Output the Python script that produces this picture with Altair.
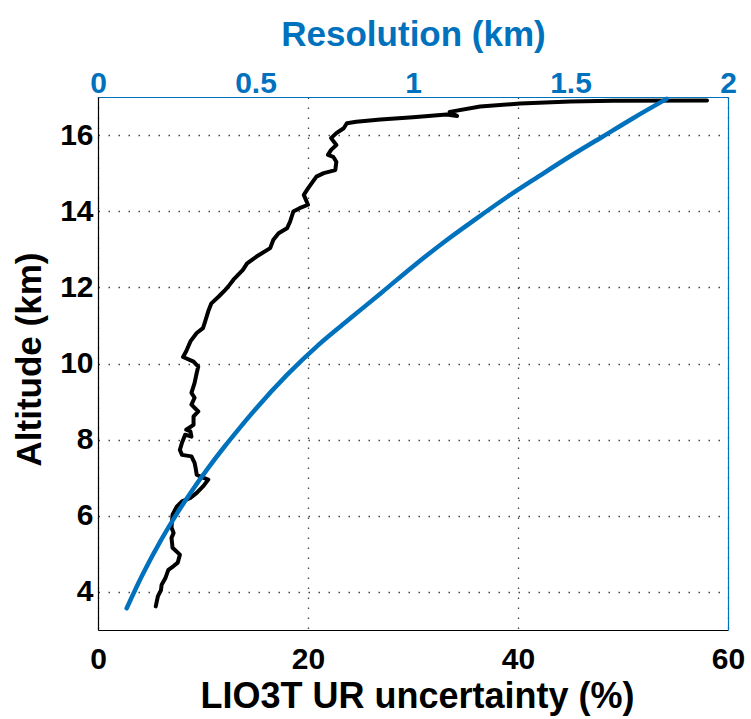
import altair as alt
import pandas as pd

# Black curve: LIO3T UR uncertainty (%) vs altitude (km)
unc_pct = [5.5, 5.6, 5.7, 6.0, 6.06, 6.4, 6.7, 7.2, 7.6, 7.8, 7.1, 7.0, 7.2, 7.0, 7.1, 7.5, 8.0, 8.8, 9.4,
           10.0, 10.5, 10.0, 9.4, 9.3, 9.2, 8.9, 8.0, 7.8, 8.0, 8.3, 8.9, 8.8, 8.4, 9.1, 9.1, 9.55, 8.9,
           9.2, 8.9, 9.2, 9.4, 9.55, 9.1, 8.1, 8.4, 8.8, 9.4, 10.0, 10.2, 10.5, 10.8, 11.5, 12.1, 12.4,
           12.9, 13.8, 14.2, 15.1, 16.4, 16.7, 17.2, 18.0, 18.3, 18.6, 19.2, 20.0, 19.6, 20.0, 20.8, 21.5,
           22.6, 22.7, 22.4, 21.9, 22.2, 22.7, 22.2, 22.7, 23.4, 23.7, 24.6, 26.9, 30.0, 33.2, 34.2, 33.5,
           36.4, 40.2, 45.0, 49.0, 58.0]
unc_alt = [3.62, 3.75, 3.88, 4.05, 4.19, 4.35, 4.58, 4.68, 4.77, 4.98, 5.16, 5.42, 5.55, 5.69, 6.03, 6.24,
           6.38, 6.47, 6.6, 6.77, 6.95, 7.0, 7.08, 7.25, 7.39, 7.56, 7.6, 7.73, 7.92, 8.13, 8.08, 8.22,
           8.26, 8.39, 8.61, 8.74, 8.92, 9.1, 9.23, 9.49, 9.75, 9.92, 10.05, 10.17, 10.32, 10.58, 10.8,
           10.93, 11.1, 11.37, 11.58, 11.76, 11.93, 12.02, 12.2, 12.46, 12.63, 12.81, 13.03, 13.25, 13.42,
           13.55, 13.73, 13.99, 14.08, 14.17, 14.43, 14.6, 14.91, 15.0, 15.08, 15.3, 15.43, 15.48, 15.61,
           15.74, 15.92, 16.05, 16.18, 16.31, 16.35, 16.41, 16.47, 16.54, 16.5, 16.61, 16.75, 16.83,
           16.88, 16.9, 16.91]

# Blue curve: resolution (km) vs altitude (km)
res_km = [0.091, 0.14, 0.2, 0.25, 0.3, 0.35, 0.4, 0.45, 0.5, 0.6, 0.7, 0.8, 0.9, 1.0, 1.1, 1.2, 1.3,
          1.4, 1.5, 1.6, 1.7, 1.805]
res_alt = [3.57, 4.43, 5.36, 6.05, 6.68, 7.26, 7.80, 8.31, 8.80, 9.70, 10.49, 11.18, 11.86, 12.55, 13.2,
           13.8, 14.38, 14.92, 15.45, 15.95, 16.45, 16.95]

x_ticks = [0, 20, 40, 60]
top_ticks = [0, 0.5, 1, 1.5, 2]
y_ticks = [4, 6, 8, 10, 12, 14, 16]

BLUE = "#0072BD"
FONT = "Liberation Sans"

df_u = pd.DataFrame({"unc": unc_pct, "alt": unc_alt, "i": range(len(unc_pct))})
df_r = pd.DataFrame({"res": res_km, "alt": res_alt, "i": range(len(res_km))})

yscale = alt.Scale(domain=[3, 17], nice=False, zero=False)

black = alt.Chart(df_u).mark_line(color="black", strokeWidth=4, strokeCap="round", strokeJoin="round").encode(
    x=alt.X("unc:Q", scale=alt.Scale(domain=[0, 60], nice=False),
            axis=alt.Axis(orient="bottom", values=x_ticks, title="LIO3T UR uncertainty (%)",
                          grid=True, gridColor="#444", gridDash=[1.5, 8.5], gridWidth=1.3,
                          domainColor="black", domainWidth=1.2, ticks=False, tickSize=0,
                          labelFont=FONT, labelFontSize=30, labelFontWeight="bold", labelColor="black",
                          labelBaseline="alphabetic", labelPadding=38, labelFlush=False,
                          titleFont=FONT, titleFontSize=36, titleFontWeight="bold", titleColor="black",
                          titleBaseline="alphabetic", titleY=77, titleX=319)),
    y=alt.Y("alt:Q", scale=yscale,
            axis=alt.Axis(orient="left", values=y_ticks, title="Altitude (km)",
                          grid=True, gridColor="#444", gridDash=[1.5, 8.5], gridWidth=1.3,
                          domainColor="black", domainWidth=1.2, ticks=False, tickSize=0,
                          labelFont=FONT, labelFontSize=30, labelFontWeight="bold", labelColor="black",
                          labelPadding=5, labelFlush=False,
                          titleFont=FONT, titleFontSize=35, titleFontWeight="bold", titleColor="black",
                          titleBaseline="alphabetic", titleX=-58, titleY=262)),
    order="i:Q",
)

blue = alt.Chart(df_r).mark_line(color=BLUE, strokeWidth=4.5, strokeCap="round", strokeJoin="round",
                                 interpolate="monotone").encode(
    x=alt.X("res:Q", scale=alt.Scale(domain=[0, 2], nice=False),
            axis=alt.Axis(orient="top", values=top_ticks, title="Resolution (km)",
                          grid=False, domainColor=BLUE, domainWidth=1.2, ticks=False, tickSize=0,
                          labelFont=FONT, labelFontSize=30, labelFontWeight="bold", labelColor=BLUE,
                          labelBaseline="alphabetic", labelPadding=5, labelFlush=False,
                          format="~g",
                          titleFont=FONT, titleFontSize=35, titleFontWeight="bold", titleColor=BLUE,
                          titleBaseline="alphabetic", titleY=-52)),
    y=alt.Y("alt:Q", scale=yscale,
            axis=alt.Axis(orient="right", values=y_ticks, title=None, labels=False, grid=False,
                          domainColor=BLUE, domainWidth=1.2, ticks=False, tickSize=0)),
    order="i:Q",
)

chart = alt.layer(black, blue).resolve_scale(x="independent").resolve_axis(y="independent").properties(
    width=630, height=533,
    autosize=alt.AutoSizeParams(type="none"),
    padding={"left": 98, "top": 97, "right": 23, "bottom": 89},
    background="white",
).configure_view(stroke=None)

chart.save("out.html", embed_options={"renderer": "svg", "actions": False})
